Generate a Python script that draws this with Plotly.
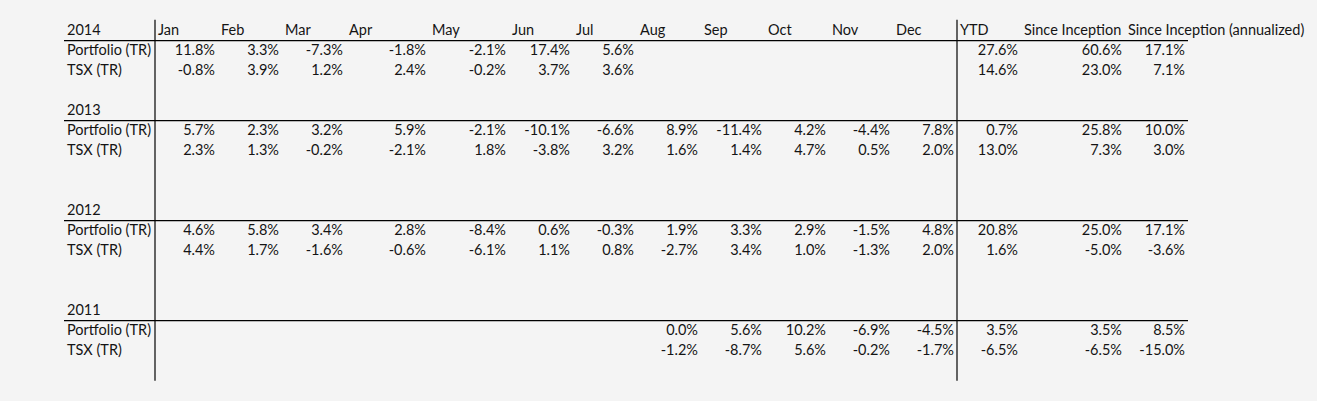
import plotly.graph_objects as go

# Column headings
months = ["Jan", "Feb", "Mar", "Apr", "May", "Jun",
          "Jul", "Aug", "Sep", "Oct", "Nov", "Dec"]
summary_cols = ["YTD", "Since Inception", "Since Inception (annualized)"]
years = ["2014", "2013", "2012", "2011"]
series_names = ["Portfolio (TR)", "TSX (TR)"]

# Monthly total returns (%), None = no data for that month
portfolio_2014 = [11.8, 3.3, -7.3, -1.8, -2.1, 17.4, 5.6, None, None, None, None, None]
tsx_2014 = [-0.8, 3.9, 1.2, 2.4, -0.2, 3.7, 3.6, None, None, None, None, None]
portfolio_2013 = [5.7, 2.3, 3.2, 5.9, -2.1, -10.1, -6.6, 8.9, -11.4, 4.2, -4.4, 7.8]
tsx_2013 = [2.3, 1.3, -0.2, -2.1, 1.8, -3.8, 3.2, 1.6, 1.4, 4.7, 0.5, 2.0]
portfolio_2012 = [4.6, 5.8, 3.4, 2.8, -8.4, 0.6, -0.3, 1.9, 3.3, 2.9, -1.5, 4.8]
tsx_2012 = [4.4, 1.7, -1.6, -0.6, -6.1, 1.1, 0.8, -2.7, 3.4, 1.0, -1.3, 2.0]
portfolio_2011 = [None, None, None, None, None, None, None, 0.0, 5.6, 10.2, -6.9, -4.5]
tsx_2011 = [None, None, None, None, None, None, None, -1.2, -8.7, 5.6, -0.2, -1.7]

# YTD, since inception, since inception annualized (%)
portfolio_summary = {"2014": [27.6, 60.6, 17.1], "2013": [0.7, 25.8, 10.0],
                     "2012": [20.8, 25.0, 17.1], "2011": [3.5, 3.5, 8.5]}
tsx_summary = {"2014": [14.6, 23.0, 7.1], "2013": [13.0, 7.3, 3.0],
               "2012": [1.6, -5.0, -3.6], "2011": [-6.5, -6.5, -15.0]}

portfolio_monthly = {"2014": portfolio_2014, "2013": portfolio_2013,
                     "2012": portfolio_2012, "2011": portfolio_2011}
tsx_monthly = {"2014": tsx_2014, "2013": tsx_2013,
               "2012": tsx_2012, "2011": tsx_2011}

# sheet layout (pixels)
W, H = 1317, 401
ROW_TOP = 20.7
ROW_H = 20
block_start = {"2014": 0, "2013": 4, "2012": 9, "2011": 14}
last_row = 17
label_x = 67
line_left = 64
col_edges = [155, 218, 282, 346, 429, 509, 573, 637, 701, 765,
             829, 893, 957, 1021, 1125, 1188]
FONT = dict(family="Lato, 'Open Sans', sans-serif", size=14.5, color="#141414")


def row_y(r):
    return ROW_TOP + ROW_H * r + ROW_H / 2 + 1


# left column: year headings and series names
lab_x, lab_y, lab_t = [], [], []
for yr in years:
    r0 = block_start[yr]
    lab_x.append(label_x)
    lab_y.append(row_y(r0))
    lab_t.append(yr)
    for i, name in enumerate(series_names):
        lab_x.append(label_x)
        lab_y.append(row_y(r0 + 1 + i))
        lab_t.append(name)

# column headings, only on the first block
headings = months + summary_cols
head_x = [col_edges[i] + 3 for i in range(len(headings))]
head_y = [row_y(0)] * len(headings)

# values, right aligned in their cells
val_x, val_y, val_t = [], [], []
for yr in years:
    r0 = block_start[yr]
    for i, (monthly, summary) in enumerate([(portfolio_monthly, portfolio_summary),
                                            (tsx_monthly, tsx_summary)]):
        vals = monthly[yr] + summary[yr]
        for c, v in enumerate(vals):
            if v is None:
                continue
            val_x.append(col_edges[c + 1] - 3)
            val_y.append(row_y(r0 + 1 + i))
            val_t.append(f"{v:.1f}%")

fig = go.Figure()
fig.add_trace(go.Scatter(x=lab_x, y=lab_y, text=lab_t, mode="text",
                         textposition="middle right", textfont=FONT,
                         hoverinfo="skip"))
fig.add_trace(go.Scatter(x=head_x, y=head_y, text=headings, mode="text",
                         textposition="middle right", textfont=FONT,
                         hoverinfo="skip"))
fig.add_trace(go.Scatter(x=val_x, y=val_y, text=val_t, mode="text",
                         textposition="middle left", textfont=FONT,
                         hoverinfo="skip"))

# borders
shapes = []
for yr in years:
    yb = ROW_TOP + ROW_H * (block_start[yr] + 1)
    shapes.append(dict(type="line", x0=line_left, x1=col_edges[-1], y0=yb, y1=yb,
                       line=dict(color="black", width=1.2)))
for xe in (col_edges[0], col_edges[12]):
    shapes.append(dict(type="line", x0=xe, x1=xe, y0=ROW_TOP - 1,
                       y1=ROW_TOP + ROW_H * (last_row + 1),
                       line=dict(color="black", width=1.2)))

fig.update_layout(
    width=W, height=H,
    margin=dict(l=0, r=0, t=0, b=0),
    paper_bgcolor="#f4f4f4", plot_bgcolor="#f4f4f4",
    showlegend=False,
    shapes=shapes,
    xaxis=dict(range=[0, W], visible=False, fixedrange=True),
    yaxis=dict(range=[H, 0], visible=False, fixedrange=True),
)

# drop the browser's default page margin so the sheet fills the window
fig.write_html("out.html", config={"displayModeBar": False},
               post_script="document.body.style.margin='0';"
                           "document.body.style.background='#f4f4f4';")
